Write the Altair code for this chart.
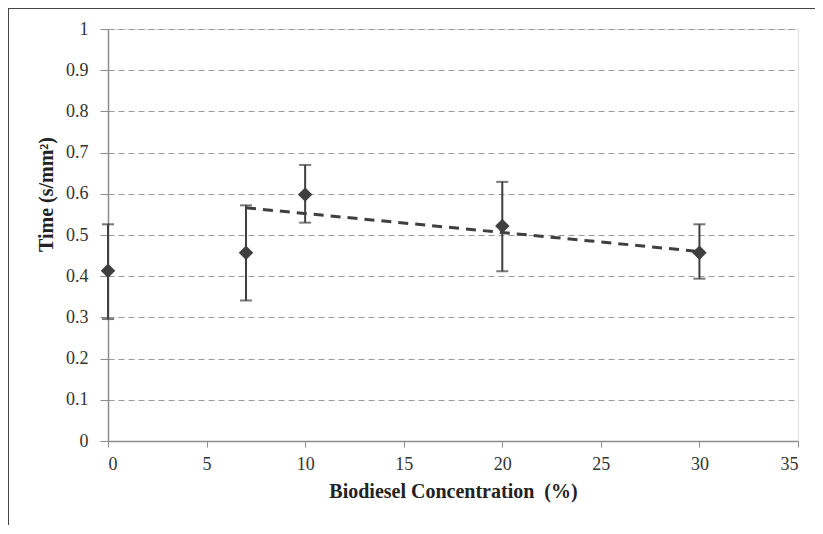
import altair as alt
import pandas as pd

conc = [0, 7, 10, 20, 30]
time_mean = [0.413, 0.457, 0.598, 0.522, 0.457]
err_low = [0.296, 0.341, 0.530, 0.412, 0.394]
err_high = [0.526, 0.572, 0.670, 0.629, 0.526]

trend_x = [7, 30]
trend_y = [0.566, 0.460]

y_ticks = [0, 0.1, 0.2, 0.3, 0.4, 0.5, 0.6, 0.7, 0.8, 0.9, 1]
x_ticks = [0, 5, 10, 15, 20, 25, 30, 35]

df = pd.DataFrame({"x": conc, "y": time_mean, "lo": err_low, "hi": err_high})
tdf = pd.DataFrame({"x": trend_x, "y": trend_y})

FONT = "Liberation Serif"
DARK = "#3f3f3f"

xs = alt.Scale(domain=[0, 35], nice=False, zero=False)
ys = alt.Scale(domain=[0, 1], nice=False)

xaxis = alt.Axis(values=x_ticks, title="Biodiesel Concentration\u00a0\u00a0(%)", grid=False,
                 domainColor="#8c8c8c", tickColor="#8c8c8c", tickSize=6, domainWidth=1.5,
                 labelFont=FONT, labelFontSize=18, labelColor="#333333", labelPadding=8,
                 titleFont=FONT, titleFontSize=20, titleFontWeight="bold", titleColor="#222222",
                 titlePadding=8)
yaxis = alt.Axis(values=y_ticks, format="~g", title="Time (s/mm²)", grid=True, gridDash=[6, 4],
                 gridColor="#9a9a9a", gridWidth=1.2,
                 domainColor="#8c8c8c", tickColor="#8c8c8c", tickSize=8, domainWidth=1.5,
                 labelFont=FONT, labelFontSize=18, labelColor="#333333", labelPadding=12,
                 titleFont=FONT, titleFontSize=20, titleFontWeight="bold", titleColor="#222222",
                 titleX=-52, titleY=165)

base = alt.Chart(df)

bars = base.mark_rule(color=DARK, strokeWidth=2).encode(
    x=alt.X("x:Q", scale=xs, axis=xaxis),
    y=alt.Y("lo:Q", scale=ys, axis=yaxis),
    y2="hi:Q",
)
cap_lo = base.mark_tick(color=DARK, orient="horizontal", size=12, thickness=2).encode(
    x=alt.X("x:Q", scale=xs), y=alt.Y("lo:Q", scale=ys))
cap_hi = base.mark_tick(color=DARK, orient="horizontal", size=12, thickness=2).encode(
    x=alt.X("x:Q", scale=xs), y=alt.Y("hi:Q", scale=ys))

trend = alt.Chart(tdf).mark_line(color=DARK, strokeWidth=3, strokeDash=[10, 7]).encode(
    x=alt.X("x:Q", scale=xs), y=alt.Y("y:Q", scale=ys))

pts = base.mark_point(shape="diamond", filled=True, size=210, color=DARK, opacity=1).encode(
    x=alt.X("x:Q", scale=xs), y=alt.Y("y:Q", scale=ys))

frame_top = alt.Chart(df).mark_rule(color="#444444", strokeWidth=2).encode(
    x=alt.value(-100), x2=alt.value(730), y=alt.value(-21))
frame_left = alt.Chart(df).mark_rule(color="#444444", strokeWidth=2).encode(
    x=alt.value(-100), y=alt.value(-21), y2=alt.value(530))

chart = alt.layer(frame_top, frame_left, trend, bars, cap_lo, cap_hi, pts).properties(
    width=690, height=412,
    padding={"left": 100, "top": 21, "right": 17, "bottom": 84},
    autosize=alt.AutoSizeParams(type="none"),
).configure_view(stroke=None).configure_axis(
    labelFont=FONT, titleFont=FONT
).configure(font=FONT)

chart.save("out.html", embed_options={"renderer": "svg", "actions": False})
